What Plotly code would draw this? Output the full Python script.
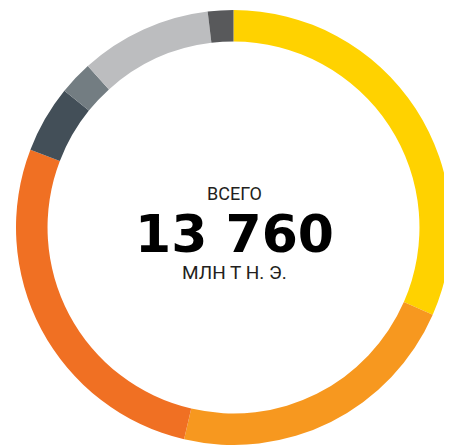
import plotly.graph_objects as go

labels = ["Нефть", "Уголь", "Газ", "АЭС", "ГЭС", "ВИЭ", "Прочее"]
values = [4348, 3041, 3743, 688, 344, 1348, 261]
colors = ["#FFD200", "#F7981F", "#F07023", "#434F58", "#737D82", "#BCBDBF", "#58595B"]
total_label = "13 760"

# page body has an 8px default margin; work in page pixels and shift
OFF = 8
W, H = 452 - OFF, 445 - OFF

def px_x(x):
    return (x - OFF) / W

def px_y(y):
    return 1 - (y - OFF) / H

fig = go.Figure(go.Pie(
    labels=labels, values=values, sort=False, direction="clockwise", rotation=0,
    hole=0.855, textinfo="none", hoverinfo="label+value",
    marker=dict(colors=colors, line=dict(width=0)),
    domain=dict(x=[px_x(16), px_x(451)], y=[max(0, px_y(445)), px_y(10)]),
    showlegend=False,
))

cx = px_x(234)
fig.add_annotation(x=cx, y=px_y(192.5), xref="paper", yref="paper", text="ВСЕГО",
                   showarrow=False, height=20, font=dict(family="Roboto", size=18, color="#231F20"))
fig.add_annotation(x=cx, y=px_y(234), xref="paper", yref="paper", text="<b>" + total_label + "</b>",
                   showarrow=False, height=46, valign="middle",
                   font=dict(family="DejaVu Sans", size=52, color="#000000"))
fig.add_annotation(x=cx, y=px_y(272), xref="paper", yref="paper", text="МЛН Т Н. Э.",
                   showarrow=False, height=20, font=dict(family="Roboto", size=19, color="#231F20"))

fig.update_layout(width=W, height=H, margin=dict(l=0, r=0, t=0, b=0),
                  paper_bgcolor="white", plot_bgcolor="white")
fig.write_html("out.html")
